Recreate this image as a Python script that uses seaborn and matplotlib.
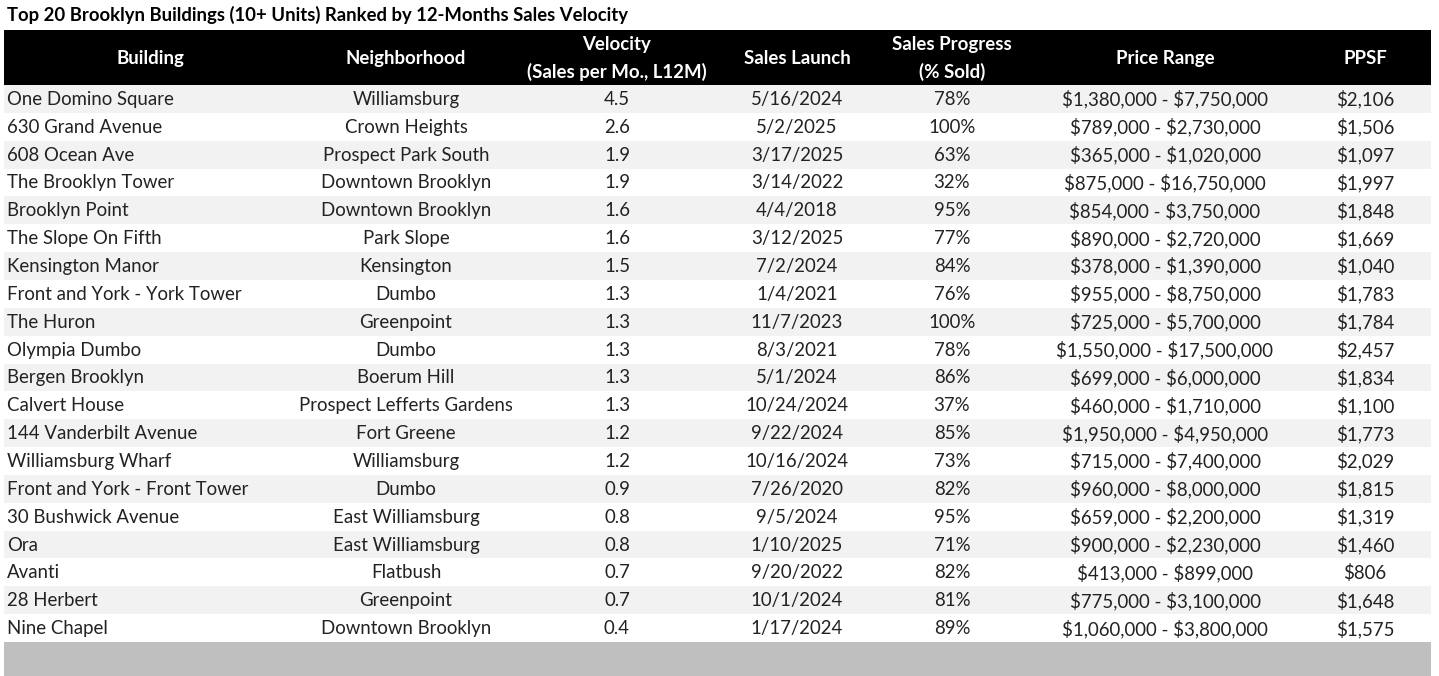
import matplotlib
matplotlib.use("Agg")
import matplotlib.pyplot as plt
import seaborn as sns
import numpy as np
import pandas as pd
from matplotlib.colors import ListedColormap
from matplotlib.patches import Rectangle

title = "Top 20 Brooklyn Buildings (10+ Units) Ranked by 12-Months Sales Velocity"
headers = ["Building", "Neighborhood", "Velocity\n(Sales per Mo., L12M)", "Sales Launch",
           "Sales Progress\n(% Sold)", "Price Range", "PPSF"]

buildings = ["One Domino Square", "630 Grand Avenue", "608 Ocean Ave", "The Brooklyn Tower",
             "Brooklyn Point", "The Slope On Fifth", "Kensington Manor", "Front and York - York Tower",
             "The Huron", "Olympia Dumbo", "Bergen Brooklyn", "Calvert House", "144 Vanderbilt Avenue",
             "Williamsburg Wharf", "Front and York - Front Tower", "30 Bushwick Avenue", "Ora",
             "Avanti", "28 Herbert", "Nine Chapel"]
neighborhoods = ["Williamsburg", "Crown Heights", "Prospect Park South", "Downtown Brooklyn",
                 "Downtown Brooklyn", "Park Slope", "Kensington", "Dumbo", "Greenpoint", "Dumbo",
                 "Boerum Hill", "Prospect Lefferts Gardens", "Fort Greene", "Williamsburg", "Dumbo",
                 "East Williamsburg", "East Williamsburg", "Flatbush", "Greenpoint", "Downtown Brooklyn"]
velocity = [4.5, 2.6, 1.9, 1.9, 1.6, 1.6, 1.5, 1.3, 1.3, 1.3, 1.3, 1.3, 1.2, 1.2, 0.9, 0.8, 0.8,
            0.7, 0.7, 0.4]
launch = ["5/16/2024", "5/2/2025", "3/17/2025", "3/14/2022", "4/4/2018", "3/12/2025", "7/2/2024",
          "1/4/2021", "11/7/2023", "8/3/2021", "5/1/2024", "10/24/2024", "9/22/2024", "10/16/2024",
          "7/26/2020", "9/5/2024", "1/10/2025", "9/20/2022", "10/1/2024", "1/17/2024"]
pct_sold = [78, 100, 63, 32, 95, 77, 84, 76, 100, 78, 86, 37, 85, 73, 82, 95, 71, 82, 81, 89]
price_low = [1380000, 789000, 365000, 875000, 854000, 890000, 378000, 955000, 725000, 1550000,
             699000, 460000, 1950000, 715000, 960000, 659000, 900000, 413000, 775000, 1060000]
price_high = [7750000, 2730000, 1020000, 16750000, 3750000, 2720000, 1390000, 8750000, 5700000,
              17500000, 6000000, 1710000, 4950000, 7400000, 8000000, 2200000, 2230000, 899000,
              3100000, 3800000]
ppsf = [2106, 1506, 1097, 1997, 1848, 1669, 1040, 1783, 1784, 2457, 1834, 1100, 1773, 2029, 1815,
        1319, 1460, 806, 1648, 1575]

df = pd.DataFrame({
    "Building": buildings,
    "Neighborhood": neighborhoods,
    "Velocity": [f"{v:.1f}" for v in velocity],
    "Launch": launch,
    "Progress": [f"{p}%" for p in pct_sold],
    "Price": [f"${a:,} - ${b:,}" for a, b in zip(price_low, price_high)],
    "PPSF": [f"${p:,}" for p in ppsf],
})

sns.set_theme(style="white")
plt.rcParams["font.family"] = ["Lato", "DejaVu Sans"]
plt.rcParams["text.parse_math"] = False

W, H = 1439, 676
fig = plt.figure(figsize=(W / 100, H / 100), dpi=100)
fig.patch.set_facecolor("white")

# geometry in pixels
left, right = 4, 1431
head_top, head_bot = 30, 85
body_bot = 642
n = len(df)

def fig_rect(x0, y0, x1, y1):
    return [x0 / W, 1 - y1 / H, (x1 - x0) / W, (y1 - y0) / H]

# striped body with seaborn heatmap
ax_body = fig.add_axes(fig_rect(left, head_bot, right, body_bot))
stripes = np.array([[i % 2] for i in range(n)])
sns.heatmap(stripes, ax=ax_body, cmap=ListedColormap(["#f2f2f2", "#ffffff"]), cbar=False,
            xticklabels=False, yticklabels=False, linewidths=0)
ax_body.set_xlim(0, 1)
ax_body.set_ylim(n, 0)
ax_body.axis("off")

# overlay axes in pixel coords
ax = fig.add_axes([0, 0, 1, 1], facecolor="none")
ax.set_xlim(0, W)
ax.set_ylim(H, 0)
ax.axis("off")

ax.add_patch(Rectangle((left, head_top), right - left, head_bot - head_top, color="black", lw=0))
ax.add_patch(Rectangle((left, body_bot), right - left, H - body_bot, color="#bfbfbf", lw=0))

ax.text(7, 15, title, ha="left", va="center", fontsize=13.3, fontweight="bold", color="black")

fs = 13.4
col_x = [150, 406, 617, 797, 952, 1165, 1365]
for x, h in zip(col_x, headers):
    ax.text(x, (head_top + head_bot) / 2 + 1, h, ha="center", va="center", fontsize=fs,
            fontweight="bold", color="white", linespacing=1.7)

row_h = (body_bot - head_bot) / n
cols = ["Building", "Neighborhood", "Velocity", "Launch", "Progress", "Price", "PPSF"]
for i in range(n):
    y = head_bot + row_h * (i + 0.5) + 0.5
    for j, c in enumerate(cols):
        if j == 0:
            ax.text(7, y, df[c][i], ha="left", va="center", fontsize=fs, color="#222222")
        else:
            ax.text(col_x[j], y, df[c][i], ha="center", va="center", fontsize=fs, color="#222222")

fig.savefig("out.png", dpi=100)
